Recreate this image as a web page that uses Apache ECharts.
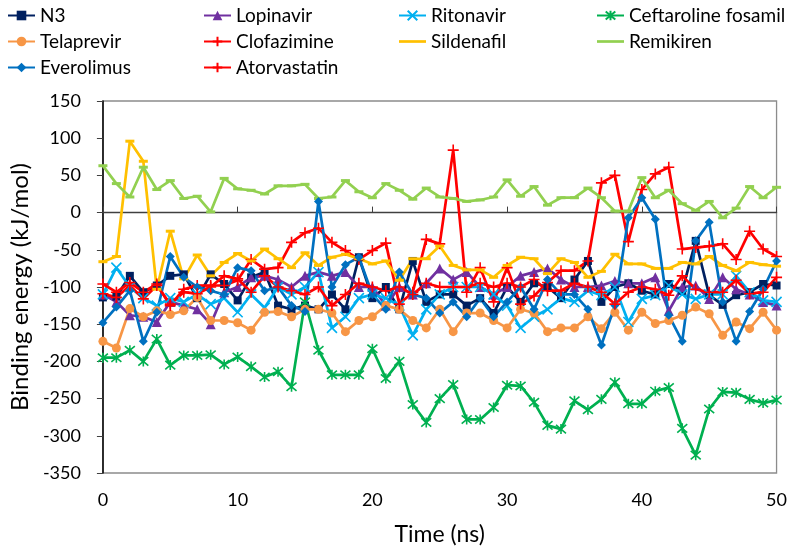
<!DOCTYPE html>
<html>
<head>
<meta charset="utf-8">
<script src="https://cdn.jsdelivr.net/npm/echarts@6/dist/echarts.min.js"></script>
<style>html,body{margin:0;padding:0;background:#fff}#c{width:790px;height:551px}</style>
</head>
<body>
<div id="c"></div>
<script>
const times = [0,1,2,3,4,5,6,7,8,9,10,11,12,13,14,15,16,17,18,19,20,21,22,23,24,25,26,27,28,29,30,31,32,33,34,35,36,37,38,39,40,41,42,43,44,45,46,47,48,49,50];
const yTicks = [-350,-300,-250,-200,-150,-100,-50,0,50,100,150];
const xTicks = [0,10,20,30,40,50];

const N3 = [-114,-113,-85,-107,-98,-85,-83,-115,-83,-96,-118,-87,-80,-125,-130,-125,-130,-110,-130,-60,-115,-100,-130,-65,-120,-110,-110,-125,-115,-135,-100,-120,-95,-100,-115,-90,-65,-120,-100,-95,-105,-110,-96,-105,-38,-111,-124,-111,-107,-96,-98];
const Lopinavir = [-110,-120,-138,-140,-147,-120,-125,-130,-150,-107,-100,-87,-85,-90,-100,-85,-80,-85,-80,-100,-100,-125,-100,-110,-95,-75,-90,-80,-100,-110,-100,-85,-80,-75,-90,-100,-100,-98,-92,-95,-95,-87,-132,-100,-98,-116,-87,-103,-110,-120,-125];
const Ritonavir = [-110,-74,-100,-115,-125,-115,-120,-110,-123,-115,-134,-110,-128,-100,-110,-100,-80,-155,-140,-115,-110,-115,-125,-165,-130,-110,-100,-100,-100,-110,-125,-155,-140,-130,-115,-120,-105,-111,-100,-147,-116,-111,-98,-110,-116,-110,-110,-85,-107,-118,-120];
const Ceftaroline = [-195,-195,-185,-200,-170,-205,-192,-192,-191,-204,-194,-207,-221,-214,-234,-120,-185,-218,-218,-218,-183,-223,-200,-258,-282,-250,-231,-278,-278,-262,-232,-233,-255,-286,-291,-253,-265,-251,-228,-257,-257,-240,-235,-290,-326,-264,-241,-242,-251,-256,-252];
const Telaprevir = [-173,-182,-129,-140,-132,-137,-132,-114,-145,-145,-148,-158,-134,-133,-140,-130,-130,-135,-160,-145,-140,-125,-130,-145,-155,-130,-160,-135,-135,-145,-155,-130,-135,-160,-155,-155,-140,-156,-134,-158,-134,-149,-145,-138,-127,-136,-165,-147,-156,-134,-158];
const Clofazimine = [-96,-107,-94,-107,-96,-125,-103,-98,-98,-98,-91,-63,-76,-74,-40,-27,-21,-40,-51,-63,-51,-41,-123,-107,-36,-42,84,-107,-74,-120,-74,-123,-112,-94,-78,-78,-65,40,50,-39,31,52,61,-49,-47,-45,-42,-63,-25,-49,-59];
const Sildenafil = [-66,-59,96,69,-103,-25,-89,-57,-85,-67,-55,-65,-49,-62,-74,-54,-71,-60,-56,-62,-69,-65,-91,-62,-62,-45,-71,-77,-77,-87,-71,-60,-62,-82,-62,-67,-87,-79,-56,-69,-69,-75,-75,-67,-69,-59,-71,-78,-67,-70,-72];
const Remikiren = [63,39,21,61,31,43,19,22,1,46,32,30,25,36,36,38,19,21,43,28,20,39,30,18,33,21,19,15,17,21,44,22,35,10,20,20,33,20,2,2,47,20,30,12,3,15,-7,6,35,20,34];
const Everolimus = [-148,-127,-105,-173,-134,-59,-87,-100,-105,-110,-74,-78,-105,-100,-125,-133,15,-100,-70,-60,-110,-130,-80,-110,-115,-135,-120,-140,-115,-140,-120,-100,-130,-90,-110,-110,-130,-178,-125,-7,20,-9,-138,-173,-38,-13,-120,-173,-133,-103,-65];
const Atorvastatin = [-109,-114,-98,-116,-98,-123,-107,-109,-100,-85,-89,-107,-85,-100,-105,-110,-100,-125,-110,-95,-100,-105,-100,-110,-95,-100,-100,-100,-95,-100,-95,-100,-90,-105,-105,-95,-100,-107,-123,-107,-100,-103,-111,-85,-103,-107,-107,-91,-109,-107,-87];

const names = ['N3','Lopinavir','Ritonavir','Ceftaroline fosamil','Telaprevir','Clofazimine','Sildenafil','Remikiren','Everolimus','Atorvastatin'];
const values = [N3,Lopinavir,Ritonavir,Ceftaroline,Telaprevir,Clofazimine,Sildenafil,Remikiren,Everolimus,Atorvastatin];
const colors = ['#002060','#7030A0','#00B0F0','#00B050','#F79646','#FF0000','#FFC000','#92D050','#0070C0','#FF0000'];
const X_PATH = 'path://M0,0L10,10M10,0L0,10';
const STAR_PATH = 'path://M0,0L10,10M10,0L0,10M5,-1L5,11';
const PLUS_PATH = 'path://M5,0L5,10M0,5L10,5';
const LINE_ICON = 'path://M0,0L30,0L30,3L0,3Z';
const symbols = ['rect','triangle',X_PATH,STAR_PATH,'circle',PLUS_PATH,'rect','rect','diamond',PLUS_PATH];
const symSizes = [8,10,10,10,9,11,[9,3],[9,3],9,11];
const strokeSym = [false,false,true,true,false,true,false,false,false,true];

const FONT = 'Lato';
const series = names.map((n,i)=>({
  name:n, type:'line',
  data: times.map((t,k)=>[t, values[i][k]]),
  symbol: symbols[i], symbolSize: symSizes[i], showSymbol:true,
  lineStyle:{color:colors[i], width:2.7},
  itemStyle: strokeSym[i] ? {color:'rgba(0,0,0,0)', borderColor:colors[i], borderWidth:1.6} : {color:colors[i], borderWidth:0},
  emphasis:{disabled:true}, animation:false
}));

const lineOnly = {'Sildenafil':true,'Remikiren':true};
const legendCols = [
  {left:2, data:['N3','Telaprevir','Everolimus']},
  {left:198, data:['Lopinavir','Clofazimine','Atorvastatin']},
  {left:393, data:['Ritonavir','Sildenafil']},
  {left:591, data:['Ceftaroline fosamil','Remikiren']}
];
const legends = legendCols.map(c=>({
  orient:'vertical', left:c.left, top:1,
  data:c.data.map(n=> lineOnly[n] ? {name:n, icon:LINE_ICON} : n),
  itemWidth:27, itemHeight:12, itemGap:7,
  textStyle:{fontFamily:FONT, fontSize:19, color:'#000'},
  selectedMode:false
}));

const chart = echarts.init(document.getElementById('c'), null, {renderer:'canvas'});
chart.setOption({
  animation:false,
  legend: legends,
  grid:{left:102, right:13, top:101, bottom:77, show:true, borderColor:'#8c8c8c', borderWidth:1.3},
  xAxis:{type:'value', min:0, max:50, interval:10,
    name:'Time (ns)', nameLocation:'middle', nameGap:50,
    nameTextStyle:{fontFamily:FONT, fontSize:23, color:'#000'},
    axisLine:{show:true, lineStyle:{color:'#404040', width:1.3}},
    axisTick:{show:true, inside:true, length:6, lineStyle:{color:'#404040'}},
    axisLabel:{fontFamily:FONT, fontSize:18, color:'#000', margin:18},
    splitLine:{show:false}},
  yAxis:{type:'value', min:-350, max:150, interval:50,
    name:'Binding energy (kJ/mol)', nameLocation:'middle', nameGap:70,
    nameTextStyle:{fontFamily:FONT, fontSize:24, color:'#000'},
    axisLine:{show:true, lineStyle:{color:'#000', width:1.5}},
    axisTick:{show:true, inside:false, length:6, lineStyle:{color:'#404040'}},
    axisLabel:{fontFamily:FONT, fontSize:18, color:'#000', margin:22},
    splitLine:{show:false}},
  series: series
});
</script>
</body>
</html>
